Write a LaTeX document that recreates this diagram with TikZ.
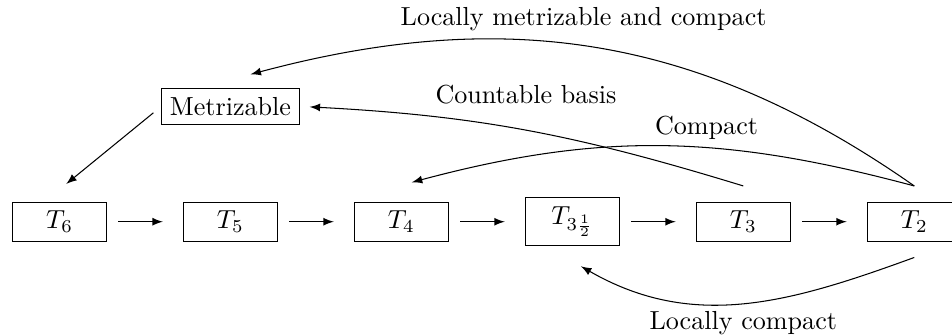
\documentclass[tikz,border=0pt]{standalone}
\usepackage{tikz}
\usetikzlibrary{arrows}
\tikzstyle{spacebox} = [rectangle, minimum width=36pt, text centered, draw=black]
\tikzstyle{arrow} = [->,>=latex]
\tikzstyle{straight} = [arrow, shorten <=4.3pt, shorten >=7.7pt]

\begin{document}
\begin{tikzpicture}[node distance=65.5pt]
      \useasboundingbox (0pt,0pt) rectangle (364.75pt,128.35pt);

      \node (T6) [spacebox] at (22.8pt,43.4pt) {$T_6$};
      \node (T5) [spacebox, right of=T6] {$T_5$};
      \node (T4) [spacebox, right of=T5] {$T_4$};
      \node (T3half) [spacebox, right of=T4] {$T_{3\frac{1}{2}}$};
      \node (T3) [spacebox, right of=T3half] {$T_3$};
      \node (T2) [spacebox, right of=T3] {$T_2$};
      \node (metr) [spacebox, above of=T5, yshift=-21.5pt] {Metrizable};

      \node (lmc) at (223.6pt,120.9pt) {Locally metrizable and compact};
      \node (cb) at (201.5pt,92.2pt) {Countable basis};
      \node (cpt) at (270.7pt,79.3pt) {Compact};
      \node (lc) at (284.8pt,4.6pt) {Locally compact};

      % Arrows
      \draw [straight] (T6) -- (T5);
      \draw [straight] (T5) -- (T4);
      \draw [straight] (T4) -- (T3half);
      \draw [straight] (T3half) -- (T3);
      \draw [straight] (T3) -- (T2);
      \draw [arrow, shorten <=3.6pt, shorten >=10.7pt] (metr.west) -- ([xshift=-5.7pt]T6.north);
      \draw [arrow] ([yshift=6pt]T2.north) to[out=145, in=15] ([xshift=7.7pt,yshift=5.4pt]metr.north);
      \draw [arrow] ([yshift=6pt]T3.north) to[out=163, in=-3] ([xshift=3.6pt]metr.east);
      \draw [arrow] ([yshift=6pt]T2.north) to[out=165, in=15] ([xshift=4pt,yshift=7.4pt]T4.north);
      \draw [arrow] ([yshift=-6pt]T2.south) to[out=200, in=-30] ([xshift=3.3pt,yshift=-7.7pt]T3half.south);

\end{tikzpicture}
\end{document}
